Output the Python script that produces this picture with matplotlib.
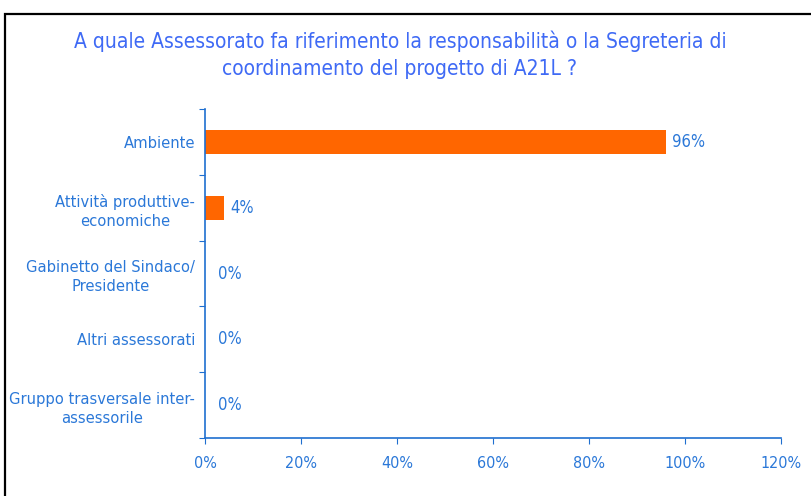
import matplotlib
matplotlib.use("Agg")
import matplotlib.pyplot as plt
from matplotlib.patches import Rectangle
from matplotlib.ticker import FixedLocator, PercentFormatter

# ── data ──────────────────────────────────────────────────────────────────────
categories = [
    "Ambiente",
    "Attività produttive-\neconomiche",
    "Gabinetto del Sindaco/\nPresidente",
    "Altri assessorati",
    "Gruppo trasversale inter-\nassessorile",
]
values = [96, 4, 0, 0, 0]
x_ticks = [0, 20, 40, 60, 80, 100, 120]
title = ("A quale Assessorato fa riferimento la responsabilità o la Segreteria di\n"
         "coordinamento del progetto di A21L ?")

# ── style ─────────────────────────────────────────────────────────────────────
plt.rcParams["font.family"] = ["DejaVu Sans"]
plt.rcParams["font.stretch"] = "condensed"
BAR = "#FF6600"
AXIS = "#1F6FD0"
TEXT = "#2B78D8"
TITLE = "#3F6AF5"

fig = plt.figure(figsize=(8.11, 4.96), dpi=100)
ax = fig.add_axes([0.2528, 0.1169, 0.7102, 0.6633])

# outer frame (cut off at right/bottom like the source)
fig.patches.append(Rectangle((4.5 / 811, -0.1), 1.2, (496 - 13.5) / 496 + 0.1,
                             transform=fig.transFigure, fill=False,
                             edgecolor="black", linewidth=1.6, clip_on=False))

ypos = list(range(len(categories)))
ax.barh(ypos, values, height=0.37, color=BAR)

for y, v in zip(ypos, values):
    off = 6 if v > 0 else 13
    ax.annotate(f"{v}%", (v, y), xytext=(off * 0.72, 0), textcoords="offset points",
                va="center", ha="left", color=TEXT, fontsize=12)

ax.set_xlim(0, 120)
ax.set_ylim(len(categories) - 0.5, -0.5)
ax.set_xticks(x_ticks)
ax.xaxis.set_major_formatter(PercentFormatter(decimals=0))

# category boundaries carry the tick marks, labels sit at the centres
ax.yaxis.set_major_locator(FixedLocator([i - 0.5 for i in range(len(categories) + 1)]))
ax.yaxis.set_major_formatter(plt.NullFormatter())
ax.yaxis.set_minor_locator(FixedLocator(ypos))
ax.set_yticklabels(categories, minor=True)
ax.tick_params(axis="y", which="minor", length=0, pad=7, labelsize=11.8, labelcolor=TEXT)
for lab in ax.get_yticklabels(minor=True):
    lab.set_multialignment("center")
    lab.set_linespacing(1.35)

ax.tick_params(axis="y", which="major", length=4, color=AXIS, direction="out")
ax.tick_params(axis="x", length=4, color=AXIS, labelsize=11.5, labelcolor=TEXT, pad=9)

for side in ["top", "right"]:
    ax.spines[side].set_visible(False)
for side in ["left", "bottom"]:
    ax.spines[side].set_color(AXIS)
    ax.spines[side].set_linewidth(1.2)

fig.text(0.493, 0.889, title, ha="center", va="center", color=TITLE,
         fontsize=15, linespacing=1.45)

fig.savefig("out.png", dpi=100)
